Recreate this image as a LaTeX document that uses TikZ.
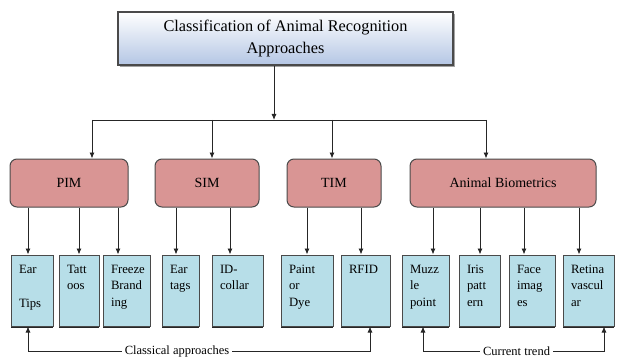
\documentclass[tikz,border=0pt]{standalone}
\usepackage{fontspec}
\setmainfont{Liberation Serif}
\newfontfamily\figserif{Liberation Serif}
\usepackage{tikz}
\usetikzlibrary{arrows.meta,positioning,calc,shadows}
\definecolor{headblue}{HTML}{B4C6E4}
\definecolor{catred}{HTML}{D99594}
\definecolor{leafblue}{HTML}{B7DEE8}
\definecolor{edgegray}{HTML}{4A4A4A}
\hyphenpenalty=10000
\exhyphenpenalty=10000
\tikzset{
  headbox/.style={rectangle, draw=edgegray, line width=1.1pt, top color=white, bottom color=headblue,
                  minimum width=335pt, minimum height=53pt, align=center,
                  font=\figserif\fontsize{16.3}{22}\selectfont,
                  drop shadow={shadow xshift=2pt, shadow yshift=-2.5pt, fill=black!45, opacity=0.8}},
  catbox/.style={rectangle, rounded corners=7pt, draw=edgegray, line width=1pt, fill=catred,
                 minimum width=#1, minimum height=48pt, font=\figserif\fontsize{14}{16}\selectfont},
  leafbox/.style={rectangle, draw=edgegray, line width=1pt, fill=leafblue, align=left,
                  text width=#1, inner xsep=8pt, inner ysep=6pt, text height=12pt, text depth=47pt,
                  font=\figserif\fontsize{12.7}{16.5}\selectfont,
                  drop shadow={shadow xshift=0pt, shadow yshift=-1.5pt, fill=black!85, opacity=1}},
  arr/.style={-{Latex[length=6pt,width=5pt]}, line width=0.9pt, draw=black!85},
  tag/.style={font=\figserif\fontsize{12.5}{14}\selectfont, inner sep=3pt},
}

\begin{document}
\begin{tikzpicture}[x=1pt, y=-1pt]
\useasboundingbox (0,0) rectangle (617,358);
\node[headbox] (cls) at (285.5,38.5) {Classification of Animal Recognition\\Approaches};
\node[catbox=118pt] (pim) at (69,183) {PIM};
\node[catbox=104pt] (sim) at (207,183) {SIM};
\node[catbox=94pt] (tim) at (334,183) {TIM};
\node[catbox=186pt] (bio) at (503,183) {Animal Biometrics};
\node[leafbox=26pt] (et) at (32,290.5) {Ear\\[18pt]Tips};
\node[leafbox=24pt] (ta) at (79,290.5) {Tatt\\oos};
\node[leafbox=31pt] (fb) at (126.5,290.5) {Freeze\\Brand\\ing};
\node[leafbox=21pt] (eg) at (180.5,290.5) {Ear\\tags};
\node[leafbox=35pt] (id) at (237.5,290.5) {ID-\\collar};
\node[leafbox=36pt] (pd) at (307,290.5) {Paint\\or\\Dye};
\node[leafbox=33pt] (rf) at (365.5,290.5) {RFID};
\node[leafbox=31pt] (mz) at (425.5,290.5) {Muzz\\le\\point};
\node[leafbox=25pt] (ir) at (479.5,290.5) {Iris\\patt\\ern};
\node[leafbox=30pt] (fc) at (532,290.5) {Face\\imag\\es};
\node[leafbox=35pt] (rt) at (588.5,290.5) {Retina\\vascul\\ar};
\coordinate (hub) at (274,120);
\draw[arr] (cls.south -| hub) -- (hub);
\draw[line width=0.9pt, draw=black!85] ([xshift=23]pim.north |- hub) -- ([xshift=-17]bio.north |- hub);
\foreach \n/\dx in {pim/23, sim/5, tim/-2, bio/-17}
  \draw[arr] ([xshift=\dx]\n.north |- hub) -- ([xshift=\dx]\n.north);
\foreach \a/\b/\dx in {pim/et/-4, pim/ta/0, pim/fb/-8.5, sim/eg/-4.5, sim/id/-7.5, tim/pd/0, tim/rf/-4.5, bio/mz/7.5, bio/ir/0.5, bio/fc/-8, bio/rt/-9.5}
  \draw[arr] ([xshift=\dx]\b.north |- \a.south) -- ([xshift=\dx]\b.north);
\node[tag] (cla) at (177,351) {Classical approaches};
\node[tag] (cur) at (516.5,351) {Current trend};
\draw[arr] (cla) -| ([xshift=-4]et.south);
\draw[arr] (cla) -| ([xshift=4.5]rf.south);
\draw[arr] (cur) -| ([xshift=-2.5]mz.south);
\draw[arr] (cur) -| ([xshift=15.5]rt.south);
\end{tikzpicture}
\end{document}
